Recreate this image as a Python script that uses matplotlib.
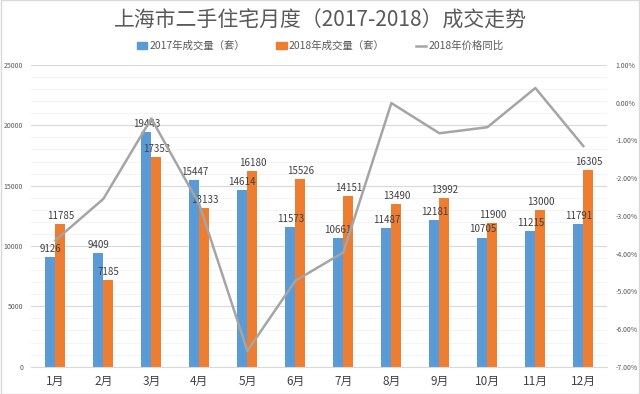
import matplotlib
matplotlib.use("Agg")
import matplotlib.pyplot as plt
import numpy as np
from matplotlib.patches import Rectangle, Patch
from matplotlib.lines import Line2D
from matplotlib.ticker import FuncFormatter, MultipleLocator

plt.rcParams['font.family'] = ['Noto Sans CJK SC', 'DejaVu Sans']

months = ['1月', '2月', '3月', '4月', '5月', '6月', '7月', '8月', '9月', '10月', '11月', '12月']
vol_2017 = [9126, 9409, 19443, 15447, 14614, 11573, 10661, 11487, 12181, 10705, 11215, 11791]
vol_2018 = [11785, 7185, 17353, 13133, 16180, 15526, 14151, 13490, 13992, 11900, 13000, 16305]
price_yoy = [-3.65, -2.55, -0.42, -2.70, -6.58, -4.72, -3.97, -0.01, -0.81, -0.65, 0.39, -1.15]

name_2017 = '2017年成交量（套）'
name_2018 = '2018年成交量（套）'
name_line = '2018年价格同比'
title = '上海市二手住宅月度（2017-2018）成交走势'

c_blue = '#5B9BD5'
c_orange = '#ED7D31'
c_gray = '#A5A5A5'
c_text = '#595959'

fig = plt.figure(figsize=(6.4, 3.94), dpi=100)
ax = fig.add_axes([0.049, 0.0693, 0.9, 0.7657])

x = np.arange(len(months))
w = 0.21
b1 = ax.bar(x - w / 2, vol_2017, w, color=c_blue, zorder=2)
b2 = ax.bar(x + w / 2, vol_2018, w, color=c_orange, zorder=2)

ax.set_xlim(-0.5, len(months) - 0.5)
ax.set_ylim(0, 25000)
ax.yaxis.set_major_locator(MultipleLocator(5000))
ax.yaxis.set_minor_locator(MultipleLocator(1000))
ax.grid(axis='y', which='major', color='#D9D9D9', linewidth=0.8, zorder=0)
ax.grid(axis='y', which='minor', color='#F2F2F2', linewidth=0.6, zorder=0)
ax.set_axisbelow(True)
for s in ['top', 'right', 'left']:
    ax.spines[s].set_visible(False)
ax.spines['bottom'].set_color('#D9D9D9')
ax.set_xticks(x)
ax.set_xticklabels(months, fontsize=8.5, color='#404040')
ax.tick_params(axis='x', length=0, pad=6)
ax.tick_params(axis='y', which='both', length=0, labelsize=5, labelcolor=c_text, pad=6)

for xi, v in zip(x, vol_2017):
    ax.text(xi - w / 2, v + 250, f'{v}', ha='center', va='bottom', fontsize=7, color='#404040', zorder=5)
for xi, v in zip(x, vol_2018):
    ax.text(xi + w / 2, v + 250, f'{v}', ha='center', va='bottom', fontsize=7, color='#404040', zorder=5)

ax2 = ax.twinx()
ax2.plot(x, price_yoy, color=c_gray, linewidth=1.8, zorder=3)
ax2.set_ylim(-7, 1)
ax2.yaxis.set_major_locator(MultipleLocator(1))
ax2.yaxis.set_major_formatter(FuncFormatter(lambda v, p: f'{v:.2f}%'))
ax2.tick_params(axis='y', length=0, labelsize=5, labelcolor=c_text, pad=6)
for s in ax2.spines.values():
    s.set_visible(False)
ax.set_zorder(ax2.get_zorder() + 1)
ax.patch.set_visible(False)
# keep line above bars: redraw line on ax with transformed coords
ax2.set_zorder(ax.get_zorder() + 1)
ax2.patch.set_visible(False)

fig.text(0.5, 0.948, title, ha='center', va='center', fontsize=15, color=c_text)

handles = [Patch(color=c_blue), Patch(color=c_orange), Line2D([0], [0], color=c_gray, lw=1.8)]
fig.legend(handles, [name_2017, name_2018, name_line], loc='center', bbox_to_anchor=(0.5, 0.883),
           ncol=3, frameon=False, fontsize=7.5, handlelength=1.0, handleheight=0.7,
           columnspacing=3.0, handletextpad=0.2, labelcolor=c_text)

fig.patches.append(Rectangle((0.001, 0.001), 0.998, 0.998, transform=fig.transFigure,
                             fill=False, edgecolor='#D9D9D9', linewidth=1))

fig.savefig('out.png', dpi=100)
